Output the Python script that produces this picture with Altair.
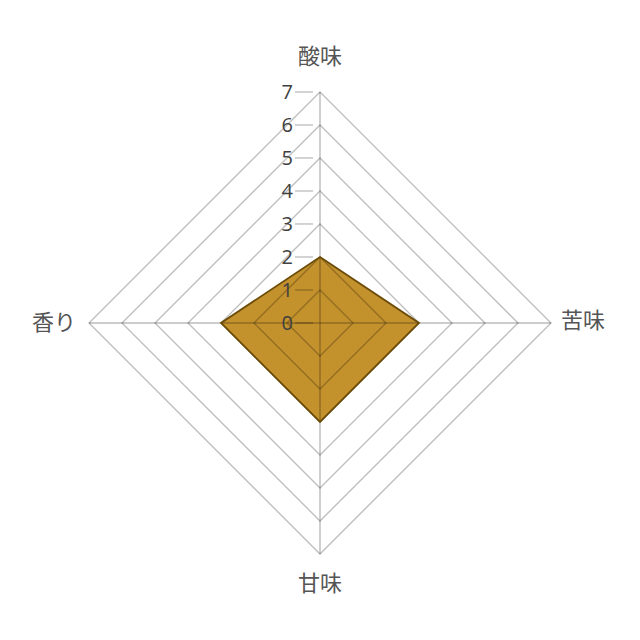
import altair as alt
import pandas as pd

# ---- data ----
axis_names = ["酸味", "苦味", "甘味", "香り"]   # clockwise from top
values = [2, 3, 3, 3]
levels = [1, 2, 3, 4, 5, 6, 7]
tick_values = [0, 1, 2, 3, 4, 5, 6, 7]
tick_labels = ["0", "1", "2", "3", "4", "5", "6", "7"]
max_level = 7

# ---- tables ----
poly_df = pd.DataFrame({"idx": list(range(len(axis_names))), "name": axis_names, "v": values})
ring_df = pd.DataFrame([{"level": L, "idx": i} for L in levels for i in range(len(axis_names))])
spoke_df = pd.DataFrame({"idx": list(range(len(axis_names))), "v": [max_level] * len(axis_names)})
label_df = pd.DataFrame({"idx": list(range(len(axis_names))), "name": axis_names, "v": [max_level] * len(axis_names)})
tick_df = pd.DataFrame({"v": tick_values, "t": tick_labels})

XD = 9.4545
xs = alt.Scale(domain=[-XD, XD])
ys = alt.Scale(domain=[-9.364, 9.545])

def polar(ch, val="datum.v"):
    return ch.transform_calculate(
        ang="datum.idx * PI / 2",
    ).transform_calculate(
        px=f"{val} * sin(datum.ang)",
        py=f"{val} * cos(datum.ang)",
    )

X = alt.X("px:Q", scale=xs, axis=None)
Y = alt.Y("py:Q", scale=ys, axis=None)

GRID_OP = 0.25
GRID_W = 1.4

fill = polar(alt.Chart(poly_df)).mark_line(
    interpolate="linear-closed", fill="#C4922C", stroke="#C4922C", strokeWidth=0
).encode(x=X, y=Y, order="idx:Q")

rings = polar(alt.Chart(ring_df), "datum.level").mark_line(
    interpolate="linear-closed", color="#000000", strokeOpacity=GRID_OP, strokeWidth=GRID_W
).encode(x=X, y=Y, detail="level:N", order="idx:Q")

spokes = polar(alt.Chart(spoke_df)).transform_calculate(zero="0").mark_rule(
    color="#000000", strokeOpacity=0.27, strokeWidth=GRID_W
).encode(x=alt.X("zero:Q", scale=xs, axis=None), y=alt.Y("zero:Q", scale=ys, axis=None),
         x2="px:Q", y2="py:Q")

outline = polar(alt.Chart(poly_df)).mark_line(
    interpolate="linear-closed", color="#6B4C08", strokeWidth=1.8
).encode(x=X, y=Y, order="idx:Q")

tick_base = alt.Chart(tick_df).transform_calculate(zero="0")
tick_marks = tick_base.mark_rule(color="#000000", strokeOpacity=GRID_OP, strokeWidth=GRID_W,
                                 xOffset=-25, x2Offset=-7).encode(
    x=alt.X("zero:Q", scale=xs, axis=None), x2="zero:Q", y=alt.Y("v:Q", scale=ys, axis=None)
)
tick_text = tick_base.mark_text(
    align="right", baseline="middle", dx=-27, dy=1, fontSize=20, color="#404040", font="Open Sans"
).encode(x=alt.X("zero:Q", scale=xs, axis=None), y=alt.Y("v:Q", scale=ys, axis=None), text="t:N")

lab_base = polar(alt.Chart(label_df))
LF = dict(fontSize=22, color="#555555", font="Noto Sans CJK JP")
lab_top = lab_base.transform_filter("datum.idx == 0").mark_text(
    align="center", baseline="middle", dy=-35, **LF)
lab_right = lab_base.transform_filter("datum.idx == 1").mark_text(
    align="left", baseline="middle", dx=10, dy=-2, **LF)
lab_bottom = lab_base.transform_filter("datum.idx == 2").mark_text(
    align="center", baseline="middle", dy=30, **LF)
lab_left = lab_base.transform_filter("datum.idx == 3").mark_text(
    align="right", baseline="middle", dx=-13, **LF)
labels = [l.encode(x=X, y=Y, text="name:N") for l in (lab_top, lab_right, lab_bottom, lab_left)]

chart = alt.layer(fill, rings, spokes, outline, tick_marks, tick_text, *labels).properties(
    width=624, height=624, padding=0, autosize=alt.AutoSizeParams(type="none")
).configure_view(stroke=None)

chart.save("out.html", embed_options={"renderer": "svg", "actions": False})
